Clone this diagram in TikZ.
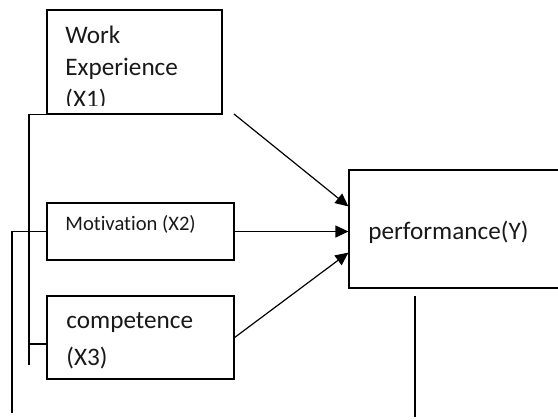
\documentclass[tikz,border=0pt]{standalone}
\usepackage{fontspec}
\setmainfont[Ligatures=NoCommon]{Carlito}
\usetikzlibrary{arrows.meta,positioning,calc}
\tikzset{
  varbox/.style={draw,line width=0.6pt,inner sep=0pt},
  lbl/.style={anchor=base west,inner sep=0pt,align=left,text=black!90},
  link/.style={line width=0.6pt},
  arr/.style={line width=0.6pt,-{Triangle[length=6.5pt,width=6pt]}}
}

\begin{document}
\begin{tikzpicture}[x=0.5pt,y=-0.5pt]
  \useasboundingbox (0,0) rectangle (558,419);
  % boxes
  \node[varbox,minimum width=87.5pt,minimum height=52pt] (exp) at (134.5,62) {};
  \node[varbox,minimum width=93.5pt,minimum height=28.5pt] (mot) at (140.5,231.5) {};
  \node[varbox,minimum width=93.5pt,minimum height=41.5pt] (comp) at (140.5,337.5) {};
  \node[varbox,minimum width=110pt,minimum height=59pt] (perf) at (459,229) {};
  % labels (base = last line)
  \begin{scope}
    \clip (exp.north west) rectangle ($(exp.south east)+(0,-9)$);
    \node[lbl,font=\fontsize{12.6}{16}\selectfont] (exptxt) at (65,107) {Work\\Experience\\(X1)};
  \end{scope}
  \node[lbl,font=\fontsize{10.3}{12}\selectfont] (mottxt) at (65,230) {Motivation (X2)};
  \node[lbl,font=\fontsize{12.6}{18.5}\selectfont] (comptxt) at (66,365) {competence\\(X3)};
  \node[lbl,font=\fontsize{12.6}{16}\selectfont] (perftxt) at (368,239) {performance(Y)};
  % loose lines
  \coordinate (expend) at (29,365);
  \coordinate (motend) at (12,413);
  \coordinate (compend) at (29,344);
  \coordinate (perftop) at (415,296);
  \coordinate (perfend) at (415,417);
  \coordinate (expout) at (234,114);
  \draw[link] (exp.south west) -| (expend);
  \draw[link] (mot.west) -| (motend);
  \draw[link] (compend) -- (compend -| comp.west);
  \draw[link] (perftop) -- (perfend);
  % arrows
  \draw[arr] (expout) -- ($(perf.north west)+(0,37)$);
  \draw[arr] (mot.east) -- (mot.east -| perf.west);
  \draw[arr] (comp.east) -- ($(perf.south west)+(0,-36)$);
\end{tikzpicture}
\end{document}
